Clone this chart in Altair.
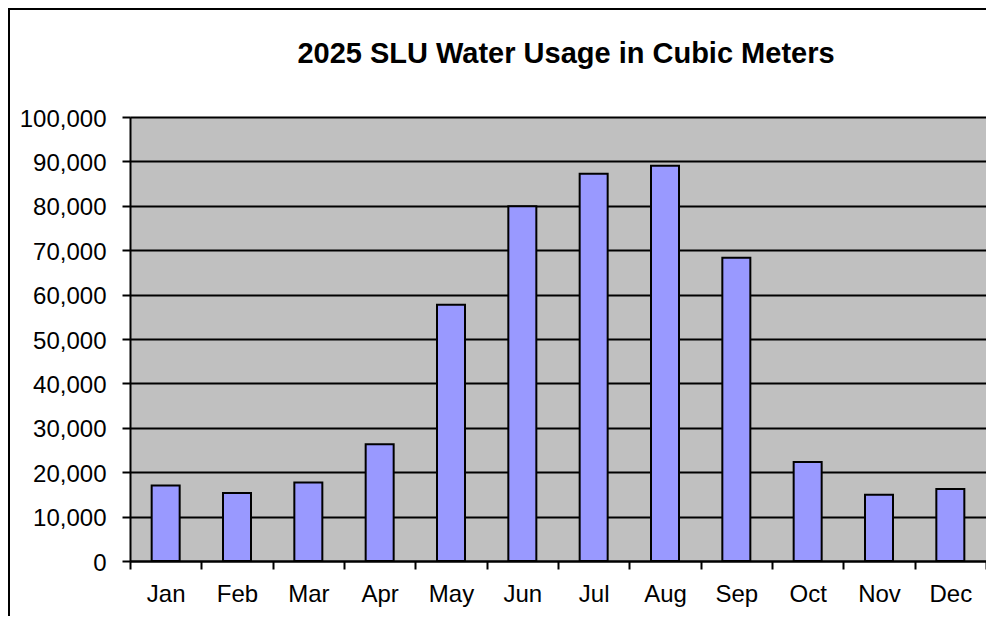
import altair as alt
import pandas as pd

months = ["Jan", "Feb", "Mar", "Apr", "May", "Jun", "Jul", "Aug", "Sep", "Oct", "Nov", "Dec"]
usage = [17000, 15300, 17700, 26300, 57700, 79900, 87200, 89000, 68300, 22300, 14900, 16200]
title_text = "2025 SLU Water Usage in Cubic Meters"

df = pd.DataFrame({"month": months, "usage": usage})

W, H = 856, 444
PAD_L, PAD_T = 122, 109
FONT = "Liberation Sans"

bars = alt.Chart(df).mark_bar(
    size=28, color="#9999FF", stroke="#000000", strokeWidth=2
).encode(
    x=alt.X("month:N", sort=months, title=None,
            scale=alt.Scale(paddingInner=0, paddingOuter=0),
            axis=alt.Axis(tickBand="extent", labelAngle=0, labelFont=FONT,
                          labelFontSize=24, labelColor="#000000", labelPadding=13,
                          tickSize=8, tickColor="#000000", tickWidth=2,
                          domainColor="#000000", domainWidth=2, grid=False)),
    y=alt.Y("usage:Q", title=None,
            scale=alt.Scale(domain=[0, 100000], nice=False),
            axis=alt.Axis(values=list(range(0, 100001, 10000)), format=",.0f",
                          labelFont=FONT, labelFontSize=24, labelColor="#000000",
                          labelPadding=16, labelOffset=2, tickSize=8,
                          tickColor="#000000", tickWidth=2, domainColor="#000000",
                          domainWidth=2, grid=True, gridColor="#000000",
                          gridWidth=2, gridOpacity=1)),
)

border_left = alt.Chart(df).mark_rule(color="#000000", strokeWidth=2).encode(
    x=alt.value(-PAD_L + 1), y=alt.value(-PAD_T), y2=alt.value(H + 120)
)
border_top = alt.Chart(df).mark_rule(color="#000000", strokeWidth=2).encode(
    x=alt.value(-PAD_L), x2=alt.value(W + 10), y=alt.value(-PAD_T + 1)
)

title = alt.Chart(pd.DataFrame({"t": [title_text]})).mark_text(
    font=FONT, fontSize=29, fontWeight="bold", color="#000000",
    align="center", baseline="alphabetic"
).encode(text="t:N", x=alt.value(W / 2 + 8), y=alt.value(-54))

chart = alt.layer(bars, border_left, border_top, title).properties(
    width=W, height=H,
    padding={"left": PAD_L, "top": PAD_T, "right": 0, "bottom": 55},
    autosize=alt.AutoSizeParams(type="none"),
    background="#FFFFFF",
).configure_view(fill="#C0C0C0", stroke="#808080", strokeWidth=1)

chart.save("out.html", embed_options={"renderer": "svg", "actions": False})
